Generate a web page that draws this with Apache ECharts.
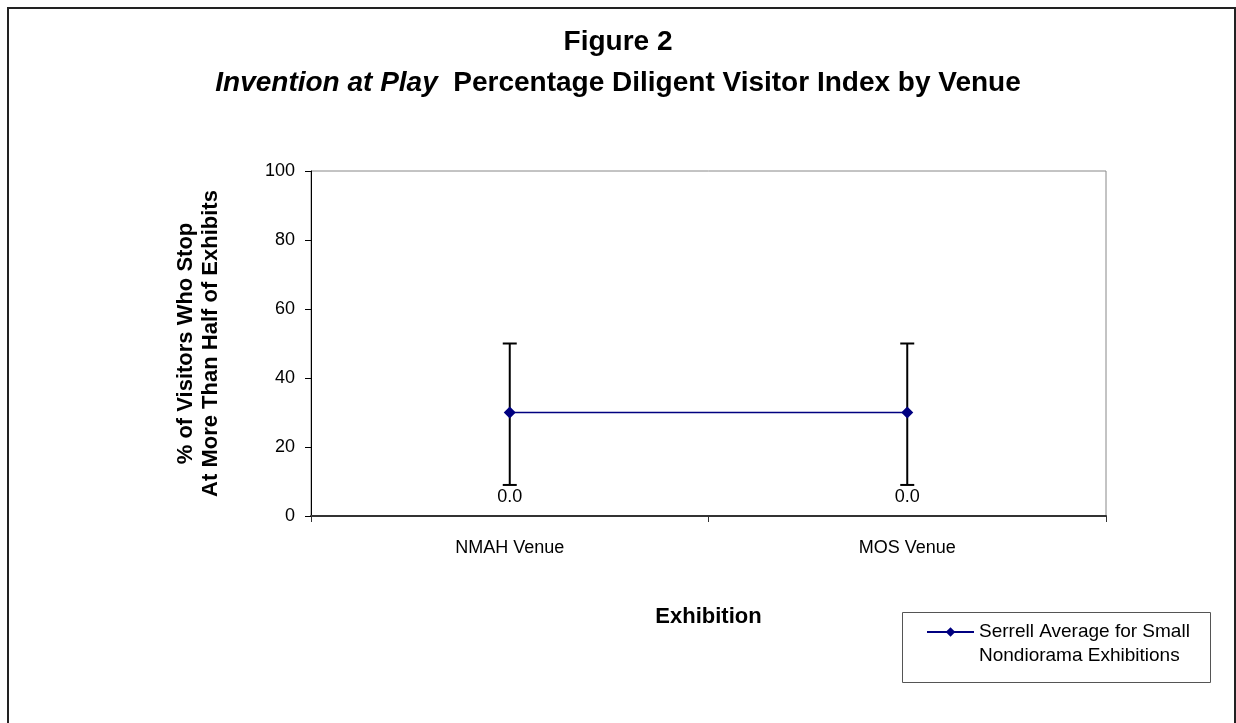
<!DOCTYPE html>
<html>
<head>
<meta charset="utf-8">
<script src="https://cdn.jsdelivr.net/npm/echarts@6/dist/echarts.min.js"></script>
<style>
	html, body {margin: 0; padding: 0; background: #fff;}
	#chart {width: 1236px; height: 723px;}
</style>
</head>
<body>
<div id="chart"></div>
<script>
const categories = ['NMAH Venue', 'MOS Venue']
const serrellAverage = [30, 30]
const errorLow = [9, 9]
const errorHigh = [50, 50]
const pointLabels = ['0.0', '0.0']
const yTicks = {min: 0, max: 100, interval: 20}

const font = '"Liberation Sans", Arial, sans-serif'
const seriesName = 'Serrell Average for Small\nNondiorama Exhibitions'

const chart = echarts.init(document.getElementById('chart'))

chart.setOption({
	backgroundColor: '#fff',
	textStyle: {fontFamily: font, color: '#000'},
	animation: false,
	graphic: [{
		type: 'rect',
		shape: {x: 8, y: 8, width: 1227, height: 800},
		style: {fill: 'none', stroke: '#222', lineWidth: 2},
		silent: true
	}, {
		// legend frame
		type: 'rect',
		shape: {x: 902.5, y: 612.5, width: 308, height: 70},
		style: {fill: 'none', stroke: '#555', lineWidth: 1},
		silent: true
	}],
	title: {
		left: 'center',
		top: 22,
		padding: 0,
		text: '{a|Figure 2}\n{b|Invention at Play}{c|  Percentage Diligent Visitor Index by Venue}',
		textStyle: {
			rich: {
				a: {fontSize: 28, fontWeight: 'bold', fontFamily: font, color: '#000', lineHeight: 41},
				b: {fontSize: 28, fontWeight: 'bold', fontStyle: 'italic', fontFamily: font, color: '#000', lineHeight: 41},
				c: {fontSize: 28, fontWeight: 'bold', fontFamily: font, color: '#000', lineHeight: 41}
			}
		}
	},
	legend: {
		left: 926,
		top: 596,
		orient: 'vertical',
		data: [seriesName],
		// empty first line so the marker sits beside the first text line
		formatter: name => ' \n' + name,
		itemWidth: 47,
		itemHeight: 12,
		itemGap: 0,
		padding: 0,
		textStyle: {fontSize: 19, fontFamily: font, color: '#000', lineHeight: 24}
	},
	grid: {
		left: 311,
		top: 171,
		right: 130,
		bottom: 207,
		show: true,
		borderColor: '#888',
		borderWidth: 1,
		backgroundColor: '#fff'
	},
	xAxis: {
		type: 'category',
		data: categories,
		boundaryGap: true,
		name: 'Exhibition',
		nameLocation: 'middle',
		nameGap: 90,
		nameTextStyle: {fontSize: 22, fontWeight: 'bold', color: '#000'},
		axisLine: {lineStyle: {color: '#333', width: 2}},
		axisTick: {show: true, length: 6, lineStyle: {color: '#333'}},
		axisLabel: {fontSize: 18, color: '#000', margin: 23}
	},
	yAxis: {
		type: 'value',
		min: yTicks.min,
		max: yTicks.max,
		interval: yTicks.interval,
		name: '% of Visitors Who Stop\nAt More Than Half of Exhibits',
		nameLocation: 'middle',
		nameGap: 88,
		nameRotate: 90,
		nameTextStyle: {fontSize: 22, fontWeight: 'bold', color: '#000', lineHeight: 25},
		axisLine: {show: true, lineStyle: {color: '#000', width: 1}},
		axisTick: {show: true, length: 6, lineStyle: {color: '#000'}},
		splitLine: {show: false},
		axisLabel: {fontSize: 18, color: '#000', margin: 16}
	},
	series: [{
		name: 'errors',
		type: 'custom',
		z: 2,
		silent: true,
		data: categories.map((c, i) => [i, errorLow[i], errorHigh[i]]),
		renderItem: (params, api) => {
			const lo = api.coord([api.value(0), api.value(1)])
			const hi = api.coord([api.value(0), api.value(2)])
			const cap = 7
			const st = {stroke: '#000', lineWidth: 2}
			return {
				type: 'group',
				children: [
					{type: 'line', shape: {x1: lo[0], y1: lo[1], x2: hi[0], y2: hi[1]}, style: st},
					{type: 'line', shape: {x1: lo[0] - cap, y1: lo[1], x2: lo[0] + cap, y2: lo[1]}, style: st},
					{type: 'line', shape: {x1: hi[0] - cap, y1: hi[1], x2: hi[0] + cap, y2: hi[1]}, style: st},
					{type: 'text', x: lo[0], y: lo[1] + 12, style: {
						text: pointLabels[params.dataIndex],
						fontSize: 18, fontFamily: font, fill: '#000', align: 'center', verticalAlign: 'middle'
					}}
				]
			}
		}
	}, {
		name: seriesName,
		type: 'line',
		z: 5,
		data: serrellAverage,
		symbol: 'diamond',
		symbolSize: 12,
		color: '#000080',
		lineStyle: {color: '#000080', width: 1.5},
		itemStyle: {color: '#000080'}
	}]
})
</script>
</body>
</html>
